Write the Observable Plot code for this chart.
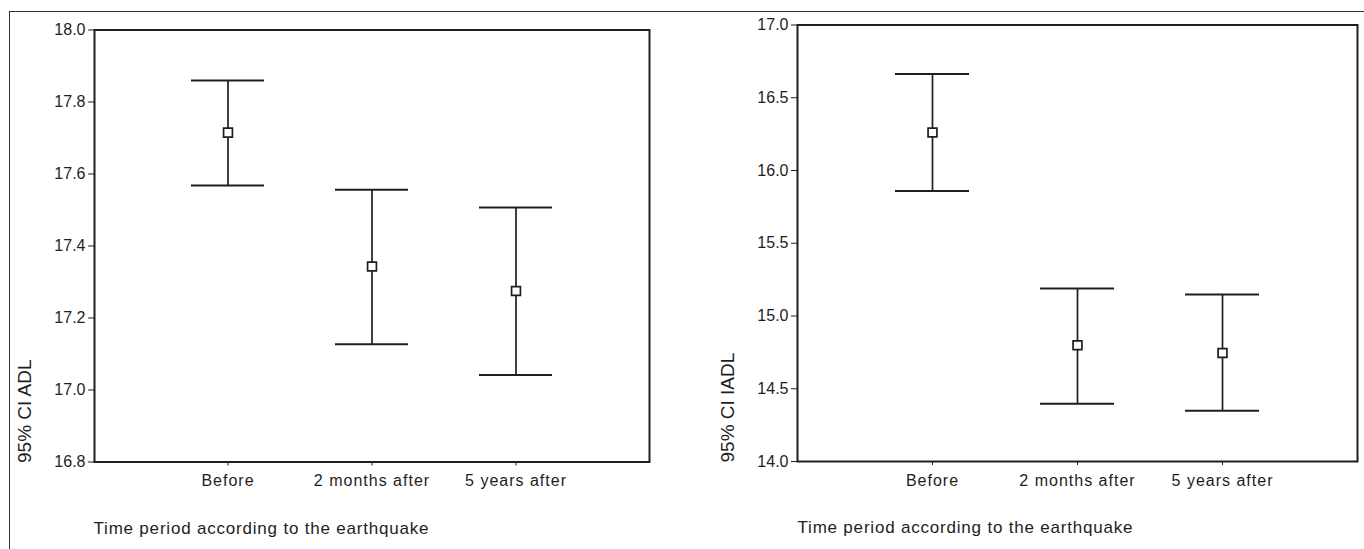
<!DOCTYPE html>
<html>
<head>
<meta charset="utf-8">
<script src="https://cdn.jsdelivr.net/npm/d3@7"></script>
<script src="https://cdn.jsdelivr.net/npm/@observablehq/plot@0.6"></script>
<style>
  html, body { margin: 0; padding: 0; background: #fff; }
  #wrap { position: relative; width: 1364px; height: 549px; overflow: hidden; }
  #border { position: absolute; left: 9px; top: 11px; right: -10px; bottom: -10px;
            border-top: 1.5px solid #333; border-left: 1.5px solid #333; }
  #left { position: absolute; left: 0; top: 0; }
  #right { position: absolute; left: 682px; top: 0; }
</style>
</head>
<body>
<div id="wrap">
  <div id="border"></div>
  <div id="left"></div>
  <div id="right"></div>
</div>
<script>
const periods = ["Before", "2 months after", "5 years after"];

const adlMean = [17.715, 17.343, 17.275];
const adlLow  = [17.568, 17.127, 17.042];
const adlHigh = [17.860, 17.556, 17.507];
const adlTicks = [16.8, 17.0, 17.2, 17.4, 17.6, 17.8, 18.0];

const iadlMean = [16.261, 14.799, 14.746];
const iadlLow  = [15.859, 14.397, 14.349];
const iadlHigh = [16.663, 15.189, 15.148];
const iadlTicks = [14.0, 14.5, 15.0, 15.5, 16.0, 16.5, 17.0];

const yLabels = ["95% CI ADL", "95% CI IADL"];
const xTitle = "Time period according to the earthquake";

const ink = "#1e1e1e";

function makeChart(mean, low, high, ticks, yLabel, m, yDx, xDx) {
  const data = periods.map((p, i) => ({period: p, mean: mean[i], lo: low[i], hi: high[i]}));
  const svg = Plot.plot({
    width: 682,
    height: 549,
    marginLeft: m.left,
    marginRight: m.right,
    marginTop: m.top,
    marginBottom: m.bottom,
    style: {fontSize: "16px", fontFamily: "'Liberation Sans', Arial, sans-serif", color: ink, background: "transparent", overflow: "visible"},
    x: {type: "band", domain: periods, paddingInner: 0.49, paddingOuter: 0.668, tickSize: 4, tickPadding: 9, label: null},
    y: {domain: [ticks[0], ticks[ticks.length - 1]], ticks: ticks, tickFormat: d3.format(".1f"), tickSize: 6, tickPadding: 3, label: null},
    marks: [
      Plot.frame({stroke: ink, strokeWidth: 2}),
      Plot.ruleX(data, {x: "period", y1: "lo", y2: "hi", stroke: ink, strokeWidth: 1.7}),
      Plot.tickY(data, {x: "period", y: "lo", stroke: ink, strokeWidth: 2}),
      Plot.tickY(data, {x: "period", y: "hi", stroke: ink, strokeWidth: 2}),
      Plot.dot(data, {x: "period", y: "mean", symbol: "square", r: 5, fill: "white", stroke: ink, strokeWidth: 1.7}),
      Plot.text([yLabel], {text: d => d, frameAnchor: "bottom-left", rotate: -90, textAnchor: "start", dx: yDx, dy: 1, fontSize: 19, fill: ink}),
      Plot.text([xTitle], {text: d => d, frameAnchor: "bottom-left", textAnchor: "start", dx: xDx, dy: 71.5, fontSize: 17, fill: ink})
    ]
  });
  svg.querySelectorAll('[aria-label="x-axis tick label"] text').forEach(t => t.setAttribute("letter-spacing", "1"));
  svg.querySelectorAll("text").forEach(t => {
    if (t.textContent === xTitle) t.setAttribute("letter-spacing", "0.8");
  });
  return svg;
}

document.getElementById("left").appendChild(
  makeChart(adlMean, adlLow, adlHigh, adlTicks, yLabels[0],
    {left: 94, right: 33, top: 29.5, bottom: 87.5}, -64, -1));
document.getElementById("right").appendChild(
  makeChart(iadlMean, iadlLow, iadlHigh, iadlTicks, yLabels[1],
    {left: 115, right: 7, top: 24.5, bottom: 88}, -64, 0));
</script>
</body>
</html>
